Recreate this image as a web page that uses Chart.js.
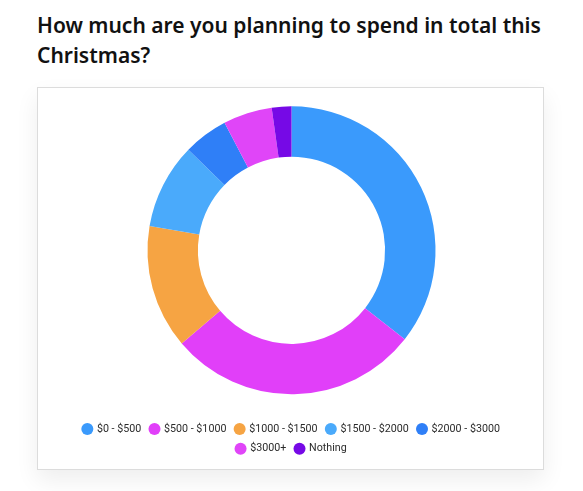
<!DOCTYPE html>
<html>
<head>
<meta charset="utf-8">
<script src="https://cdn.jsdelivr.net/npm/chart.js@4"></script>
<style>
  body { margin:0; background:#fff; width:583px; height:491px; position:relative; overflow:hidden; }
  h2 {
    position:absolute; left:37px; top:10px; margin:0; width:530px;
    font-family:"Noto Sans", sans-serif; font-weight:600; font-size:21px;
    line-height:30px; color:#111;
  }
  .card {
    position:absolute; left:37px; top:87px; width:505px; height:381px;
    border:1px solid #dcdcdc; background:#fff;
    box-shadow:0 10px 22px rgba(0,0,0,0.07);
  }
  .wrap { position:absolute; left:39px; top:86px; width:505px; height:384px; }
</style>
</head>
<body>
<h2>How much are you planning to spend in total this Christmas?</h2>
<div class="card"></div>
<div class="wrap"><canvas id="spendChart"></canvas></div>
<script>
/* ---------- DATA ---------- */

const categories = ["$0 - $500","$500 - $1000","$1000 - $1500","$1500 - $2000","$2000 - $3000","$3000+","Nothing"]
const shares = [35.6,28.2,13.9,9.6,5.0,5.5,2.2]
const sliceColors = ["#3a9afc","#e13ff9","#f6a443","#4aaafb","#2f7ff7","#e045f8","#7609e6"]

/* ---------- DONUT ---------- */

try {
  new Chart(document.getElementById("spendChart"),{
  type:'doughnut',
  data:{
  labels:categories,
  datasets:[
  {
  data:shares,
  backgroundColor:sliceColors,
  borderWidth:0
  }
  ]
  },
  options:{
  responsive:true,
  maintainAspectRatio:false,
  animation:false,
  radius:144,
  cutout:'65%',
  // side padding narrows the legend so it wraps after 5 items
  layout:{padding:{top:0,bottom:6,left:30,right:30}},
  plugins:{
  tooltip:{enabled:false},
  legend:{
  position:'bottom',
  labels:{
  usePointStyle:true,
  pointStyle:'circle',
  boxWidth:8.5,
  boxHeight:8.5,
  padding:9,
  color:'#2b2b2b',
  font:{family:'Roboto',size:10.7}
  }
  }
  }
  }
  })
} catch(e) {
  console.error('Error initializing spend chart:', e)
}
</script>
</body>
</html>
